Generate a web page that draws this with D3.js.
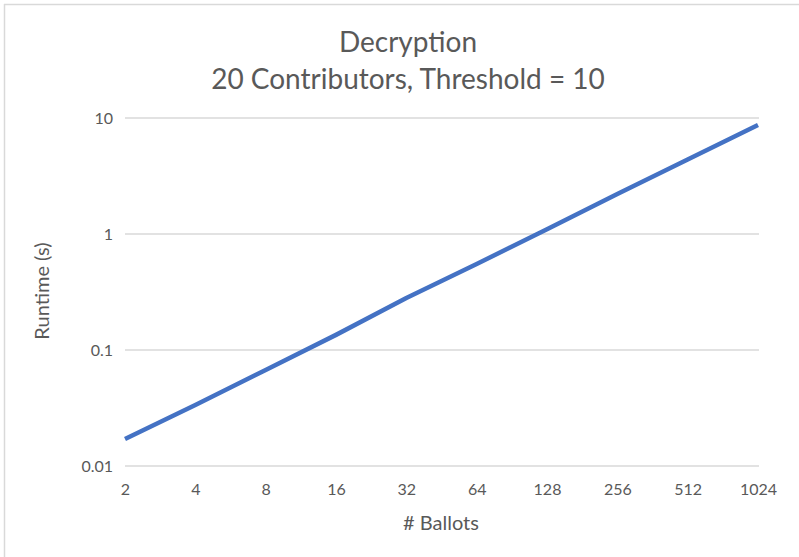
<!DOCTYPE html>
<html>
<head>
<meta charset="utf-8">
<script src="https://cdn.jsdelivr.net/npm/d3@7"></script>
<style>
  html, body { margin: 0; padding: 0; background: #fff; }
  svg { display: block; }
  text { font-family: Lato, "Open Sans", sans-serif; fill: #595959; }
</style>
</head>
<body>
<svg id="chart" width="799" height="557"></svg>
<script>
// Number of ballots (category axis)
const ballots = ["2", "4", "8", "16", "32", "64", "128", "256", "512", "1024"];
// Decryption runtime in seconds
const runtime = [0.0171, 0.0336, 0.0672, 0.135, 0.281, 0.551, 1.10, 2.21, 4.39, 8.71];
// Log-axis tick values
const yTicks = [0.01, 0.1, 1, 10];
const yTickLabels = ["0.01", "0.1", "1", "10"];

const titleLines = ["Decryption", "20 Contributors, Threshold = 10"];
const xTitle = "# Ballots";
const yTitle = "Runtime (s)";

const svg = d3.select("#chart");
const W = 799, H = 557;
const plot = { left: 125, right: 758, top: 118, bottom: 466 };

// Outer chart frame (top and left edges visible)
svg.append("line").attr("x1", 4).attr("x2", W).attr("y1", 4.5).attr("y2", 4.5)
  .attr("stroke", "#d9d9d9").attr("stroke-width", 1.5);
svg.append("line").attr("x1", 4.5).attr("x2", 4.5).attr("y1", 4).attr("y2", H)
  .attr("stroke", "#d9d9d9").attr("stroke-width", 1.5);

const x = d3.scalePoint().domain(ballots).range([plot.left, plot.right]);
const y = d3.scaleLog().domain([0.01, 10]).range([plot.bottom, plot.top]);

// Horizontal gridlines
svg.append("g").selectAll("line").data(yTicks).join("line")
  .attr("x1", plot.left).attr("x2", plot.right + 1)
  .attr("y1", d => y(d)).attr("y2", d => y(d))
  .attr("stroke", "#d9d9d9").attr("stroke-width", 1.5);

// Y axis tick labels
const yAxis = d3.axisLeft(y).tickValues(yTicks)
  .tickFormat((d, i) => yTickLabels[i]).tickSize(0).tickPadding(12);
const gy = svg.append("g").attr("transform", `translate(${plot.left},0)`).call(yAxis);
gy.select(".domain").remove();
gy.selectAll("text").attr("font-size", 16).style("font-family", "Lato, 'Open Sans', sans-serif").attr("fill", "#595959");

// X axis tick labels
const xAxis = d3.axisBottom(x).tickSize(0).tickPadding(18);
const gx = svg.append("g").attr("transform", `translate(0,${plot.bottom})`).call(xAxis);
gx.select(".domain").remove();
gx.selectAll("text").attr("font-size", 16).style("font-family", "Lato, 'Open Sans', sans-serif").attr("fill", "#595959");

// Runtime line
const line = d3.line().x((d, i) => x(ballots[i])).y(d => y(d));
svg.append("path").datum(runtime)
  .attr("d", line)
  .attr("fill", "none")
  .attr("stroke", "#4472c4")
  .attr("stroke-width", 4.5)
  .attr("stroke-linejoin", "round");

// Chart title
svg.append("g").selectAll("text").data(titleLines).join("text")
  .attr("x", 408).attr("y", (d, i) => 52 + i * 37)
  .attr("text-anchor", "middle").attr("font-size", 28)
  .text(d => d);

// Axis titles
svg.append("text").attr("x", 441).attr("y", 530)
  .attr("text-anchor", "middle").attr("font-size", 20).text(xTitle);
svg.append("text")
  .attr("transform", `translate(49,291) rotate(-90)`)
  .attr("text-anchor", "middle").attr("font-size", 20).text(yTitle);
</script>
</body>
</html>
